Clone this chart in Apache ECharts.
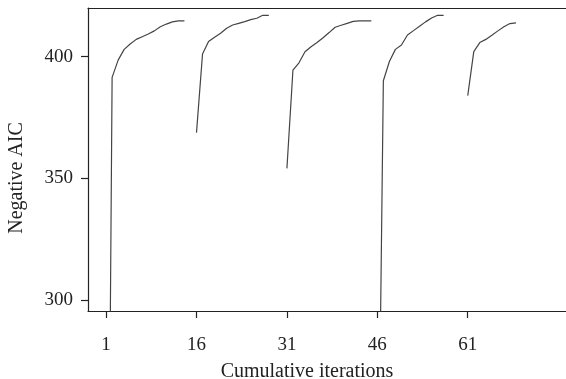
<!DOCTYPE html>
<html>
<head>
<meta charset="utf-8">
<script src="https://cdn.jsdelivr.net/npm/echarts@6/dist/echarts.min.js"></script>
<style>
html,body{margin:0;padding:0;background:#fff;}
#chart{width:566px;height:379px;}
</style>
</head>
<body>
<div id="chart"></div>
<script>
// Data
const xTicks = [1, 16, 31, 46, 61];
const yTicks = [300, 350, 400];

const run1Iter = [1,2,3,4,5,6,7,8,9,10,11,12,13,14];
const run1Val  = [60, 391.5, 398.6, 403, 405.2, 407.1, 408.2, 409.3, 410.6, 412.3, 413.4, 414.3, 414.7, 414.7];

const run2Iter = [16,17,18,19,20,21,22,23,24,25,26,27,28];
const run2Val  = [368.8, 401.1, 406.2, 408, 409.6, 411.7, 413, 413.7, 414.4, 415.2, 415.8, 417, 417];

const run3Iter = [31,32,33,34,35,36,37,38,39,40,41,42,43,44,45];
const run3Val  = [354.1, 394.5, 397.5, 402, 404.1, 405.8, 407.8, 409.9, 412.1, 412.9, 413.7, 414.5, 414.7, 414.7, 414.7];

const run4Iter = [46,47,48,49,50,51,52,53,54,55,56,57];
const run4Val  = [180, 390.1, 398, 403, 404.8, 408.9, 410.7, 412.5, 414.3, 415.9, 417, 417];

const run5Iter = [61,62,63,64,65,66,67,68,69];
const run5Val  = [384, 402.1, 405.8, 407.1, 408.8, 410.6, 412.3, 413.6, 413.9];

const runs = [[run1Iter, run1Val],[run2Iter, run2Val],[run3Iter, run3Val],[run4Iter, run4Val],[run5Iter, run5Val]];

const font = '"Liberation Serif", "DejaVu Serif", serif';
const ink = '#222';

const chart = echarts.init(document.getElementById('chart'), null, {renderer: 'canvas'});
chart.setOption({
  animation: false,
  backgroundColor: '#fff',
  grid: {left: 88, top: 8, right: 0, bottom: 68, containLabel: false},
  xAxis: [{
    type: 'value', min: -2, max: 77.3,
    axisLine: {show: true, onZero: false, lineStyle: {color: ink, width: 1.2}},
    axisTick: {show: true, length: 7, customValues: xTicks, lineStyle: {color: ink, width: 1.2}},
    axisLabel: {customValues: xTicks, margin: 25, color: ink, fontFamily: font, fontSize: 19},
    splitLine: {show: false}
  }, {
    type: 'value', position: 'top', min: -2, max: 77.3,
    axisLine: {show: true, onZero: false, lineStyle: {color: ink, width: 1.2}},
    axisTick: {show: false}, axisLabel: {show: false}, splitLine: {show: false}
  }],
  yAxis: {
    type: 'value', min: 295.5, max: 420,
    axisLine: {show: true, onZero: false, lineStyle: {color: ink, width: 1.2}},
    axisTick: {show: true, length: 7, customValues: yTicks, lineStyle: {color: ink, width: 1.2}},
    axisLabel: {customValues: yTicks, margin: 15, color: ink, fontFamily: font, fontSize: 19},
    splitLine: {show: false}
  },
  graphic: [
    {type: 'text', x: 17, y: 178, rotation: Math.PI / 2,
     style: {text: 'Negative AIC', fill: ink, font: '20px ' + font, align: 'center', verticalAlign: 'middle'}},
    {type: 'text', x: 307, y: 372,
     style: {text: 'Cumulative iterations', fill: ink, font: '20px ' + font, align: 'center', verticalAlign: 'middle'}}
  ],
  series: runs.map(([it, v]) => ({
    type: 'line',
    data: it.map((x, i) => [x, v[i]]),
    showSymbol: false,
    clip: true,
    lineStyle: {color: '#444', width: 1.2},
    silent: true
  }))
});
</script>
</body>
</html>
